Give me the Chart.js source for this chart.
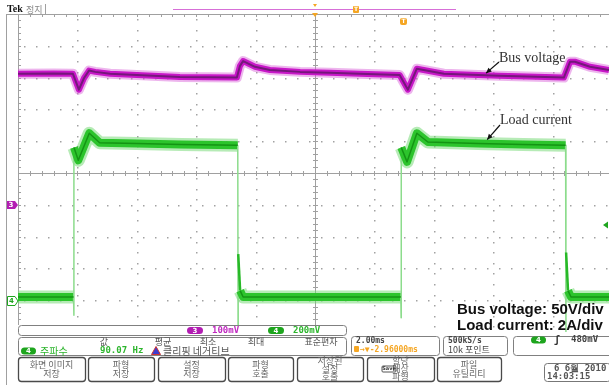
<!DOCTYPE html>
<html>
<head>
<meta charset="utf-8">
<script src="https://cdn.jsdelivr.net/npm/chart.js@4.4.0/dist/chart.umd.min.js"></script>
<style>
  html, body { margin: 0; padding: 0; background: #fff; }
  #scope { display: block; }
</style>
</head>
<body>
<canvas id="scope" width="609" height="385"></canvas>
<script>
// horizontal divisions (2 ms/div), screen is cut just before 20 ms
const timeDivs = [0, 2, 4, 6, 8, 10, 12, 14, 16, 18];
// vertical divisions on the CH4 scale (2 A/div)
const ampDivs = [-2, 0, 2, 4, 6, 8, 10, 12, 14, 16, 18];

// CH3 bus voltage, 50 V/div (time in ms)
const busTime  = [0, 1.2, 1.85, 2.05, 2.22, 2.39, 2.6, 3.1, 4.0, 5.45, 7.37, 7.47, 7.58, 7.98, 8.48, 9.5, 10.5, 11.5, 12.85, 13.13, 13.43, 14.34, 16.2, 18.38, 18.59, 18.75, 19.26, 19.9];
const busVolts = [206, 206.5, 206, 181, 199, 211, 209, 206, 204, 201, 200, 218, 226, 217, 212, 209, 207.5, 206, 204, 181, 214, 206, 203, 200, 225, 225, 217, 212];

// CH4 load current, 2 A/div
const loadTime = [0, 1.87, 1.88, 1.885, 2.03, 2.4, 2.75, 4.0, 5.5, 7.4, 7.41, 7.415, 7.48, 7.58, 12.89, 12.9, 12.905, 13.1, 13.43, 13.8, 15.5, 17.0, 18.44, 18.45, 18.455, 18.52, 18.62, 19.9];
const loadAmps = [0.2, 0.2, -0.95, 9.6, 8.8, 10.5, 9.9, 9.85, 9.8, 9.75, -1.55, 2.9, 0.6, 0.2, 0.2, -1.1, 9.6, 8.7, 10.5, 9.95, 9.85, 9.8, 9.75, -2, 3.0, 0.6, 0.2, 0.2];

const busPts = busTime.map((t, i) => ({ x: t, y: busVolts[i] }));
const loadPts = loadTime.map((t, i) => ({ x: t, y: loadAmps[i] }));

// near-vertical pieces of the current trace are drawn thin
const isEdge = c => Math.abs(c.p1.x - c.p0.x) < 2.5;
const isKick = c => Math.min(c.p0.parsed.y, c.p1.parsed.y) >= 0.5 && Math.max(c.p0.parsed.y, c.p1.parsed.y) <= 4;

function trace(data, axis, color, width, order, edgeStyle) {
  return {
    data, yAxisID: axis, borderColor: color, borderWidth: width, order,
    pointRadius: 0, tension: 0, fill: false, borderJoinStyle: 'round',
    segment: edgeStyle ? {
      borderColor: c => isEdge(c) ? edgeStyle(c).color : undefined,
      borderWidth: c => isEdge(c) ? edgeStyle(c).width : undefined
    } : undefined
  };
}
const hide = () => ({ color: 'rgba(0,0,0,0)', width: 0 });
const edgeLine = c => isKick(c) ? { color: '#27b927', width: 2.5 } : { color: '#8cdc8c', width: 1.5 };

function rbox(ctx, x, y, w, h, r, stroke, fill) {
  ctx.beginPath();
  ctx.roundRect(x, y, w, h, r);
  if (fill) { ctx.fillStyle = fill; ctx.fill(); }
  if (stroke) { ctx.strokeStyle = stroke; ctx.stroke(); }
}
function text(ctx, s, x, y, font, color, align) {
  ctx.font = font;
  ctx.fillStyle = color;
  ctx.textAlign = align || 'left';
  ctx.textBaseline = 'middle';
  ctx.fillText(s, x, y);
}
function pill(ctx, x, y, w, h, color, label) {
  rbox(ctx, x, y, w, h, h / 2, null, color);
  text(ctx, label, x + w / 2, y + h / 2 + 0.5, 'bold 7px "DejaVu Sans"', '#fff', 'center');
}
function arrow(ctx, x0, y0, x1, y1) {
  ctx.beginPath(); ctx.moveTo(x0, y0); ctx.lineTo(x1, y1); ctx.stroke();
  const a = Math.atan2(y1 - y0, x1 - x0);
  ctx.beginPath();
  ctx.moveTo(x1, y1);
  ctx.lineTo(x1 - 6 * Math.cos(a - 0.45), y1 - 6 * Math.sin(a - 0.45));
  ctx.lineTo(x1 - 6 * Math.cos(a + 0.45), y1 - 6 * Math.sin(a + 0.45));
  ctx.closePath(); ctx.fill();
}

const KR = '"Noto Sans CJK KR"';
const MONO = '"DejaVu Sans Mono"';

function drawGraticule(chart) {
  const { ctx, chartArea: a, scales: { x, yA } } = chart;
  const cx = Math.round(x.getPixelForValue(10)) + 0.5;
  const cy = Math.round(yA.getPixelForValue(8)) + 0.5;
  const top = a.top + 0.5, left = a.left + 0.5;
  ctx.save();
  // dotted division lines
  ctx.fillStyle = '#a2a2a2';
  timeDivs.forEach(t => {
    if (t % 10 === 0) return;
    const px = Math.round(x.getPixelForValue(t));
    for (let py = a.top + 5; py < a.bottom; py += 10.6) ctx.fillRect(px, Math.round(py), 1.5, 1.5);
  });
  ampDivs.forEach(v => {
    if (v === 8 || v === 18 || v === -2) return;
    const py = Math.round(yA.getPixelForValue(v));
    for (let px = a.left + 6; px < a.right; px += 11.88) ctx.fillRect(Math.round(px), py, 1.5, 1.5);
  });
  ctx.strokeStyle = '#a0a0a0';
  ctx.lineWidth = 1;
  ctx.beginPath();
  ctx.moveTo(6, top); ctx.lineTo(a.right, top);
  ctx.moveTo(6.5, a.top); ctx.lineTo(6.5, 385);
  ctx.moveTo(left, a.top); ctx.lineTo(left, a.bottom);
  ctx.moveTo(a.left, cy); ctx.lineTo(a.right, cy);
  ctx.moveTo(cx, a.top); ctx.lineTo(cx, a.bottom);
  for (let i = 0; i <= 50; i++) {
    const px = Math.round(x.getPixelForValue(i * 0.4)) + 0.5;
    if (px > a.right) break;
    ctx.moveTo(px, cy - 2.5); ctx.lineTo(px, cy + 2.5);
    ctx.moveTo(px, a.top); ctx.lineTo(px, a.top + 3);
  }
  for (let i = 0; i <= 50; i++) {
    const py = Math.round(yA.getPixelForValue(-2 + i * 0.4)) + 0.5;
    ctx.moveTo(cx - 2.5, py); ctx.lineTo(cx + 2.5, py);
    ctx.moveTo(a.left, py); ctx.lineTo(a.left + 3, py);
  }
  ctx.stroke();
  // separator next to the header
  ctx.beginPath(); ctx.moveTo(45.5, 4); ctx.lineTo(45.5, 14); ctx.stroke();
  ctx.restore();
}

function drawMarkers(chart) {
  const { ctx, scales: { x, yA, yV } } = chart;
  ctx.save();
  text(ctx, 'Tek', 7, 9.5, 'bold 10px "Liberation Serif"', '#111');
  text(ctx, '정지', 26, 9.5, '9px ' + KR, '#888');
  // record bar + trigger position markers
  ctx.fillStyle = '#d76fd7';
  ctx.fillRect(173, 9, 283, 1);
  const tx = Math.round(x.getPixelForValue(10));
  ctx.fillStyle = '#f5a623';
  ctx.beginPath(); ctx.moveTo(tx - 3, 13); ctx.lineTo(tx + 3, 13); ctx.lineTo(tx, 17); ctx.fill();
  ctx.beginPath(); ctx.moveTo(tx - 2, 4); ctx.lineTo(tx + 2, 4); ctx.lineTo(tx, 7); ctx.fill();
  rbox(ctx, 353, 6, 6, 7, 1, null, '#f5a623');
  text(ctx, 'T', 356, 9.8, 'bold 6px "DejaVu Sans"', '#fff', 'center');
  const trig = Math.round(x.getPixelForValue(12.96));
  rbox(ctx, trig - 3, 18, 7, 7, 2, null, '#f5a623');
  text(ctx, 'T', trig + 0.5, 21.8, 'bold 6px "DejaVu Sans"', '#fff', 'center');
  // channel ground tags
  const g3 = Math.round(yV.getPixelForValue(0));
  ctx.fillStyle = '#b21db2';
  ctx.beginPath(); ctx.moveTo(7, g3 - 4); ctx.lineTo(15, g3 - 4); ctx.lineTo(18, g3); ctx.lineTo(15, g3 + 4); ctx.lineTo(7, g3 + 4); ctx.fill();
  text(ctx, '3', 11, g3 + 0.5, 'bold 7px "DejaVu Sans"', '#fff', 'center');
  const g4 = Math.round(yA.getPixelForValue(0)) + 1;
  ctx.strokeStyle = '#1ea51e'; ctx.fillStyle = '#fff'; ctx.lineWidth = 1;
  ctx.beginPath(); ctx.moveTo(7.5, g4 - 4.5); ctx.lineTo(15, g4 - 4.5); ctx.lineTo(18, g4); ctx.lineTo(15, g4 + 4.5); ctx.lineTo(7.5, g4 + 4.5); ctx.closePath(); ctx.fill(); ctx.stroke();
  text(ctx, '4', 11.5, g4 + 0.5, 'bold 7px "DejaVu Sans"', '#1ea51e', 'center');
  // trigger level
  ctx.fillStyle = '#1ea51e';
  ctx.beginPath(); ctx.moveTo(603, 225); ctx.lineTo(608, 221.5); ctx.lineTo(608, 228.5); ctx.fill();
  ctx.restore();
}

function drawNotes(chart) {
  const { ctx, scales: { x, yA, yV } } = chart;
  ctx.save();
  ctx.strokeStyle = '#111'; ctx.fillStyle = '#111'; ctx.lineWidth = 1.2;
  arrow(ctx, 499, 62, x.getPixelForValue(15.76), yV.getPixelForValue(207));
  arrow(ctx, 500, 125, x.getPixelForValue(15.8), yA.getPixelForValue(10.1));
  text(ctx, 'Bus voltage', 499, 58, '14px "Liberation Serif"', '#333');
  text(ctx, 'Load current', 500, 120, '14px "Liberation Serif"', '#333');
  text(ctx, 'Bus voltage: 50V/div', 457, 310, 'bold 15px "Liberation Sans"', '#111');
  text(ctx, 'Load current: 2A/div', 457, 326, 'bold 15px "Liberation Sans"', '#111');
  ctx.restore();
}

function drawPanel(chart) {
  const ctx = chart.ctx;
  const edge = '#808080';
  ctx.save();
  ctx.fillStyle = '#fff';
  ctx.fillRect(7, 336, 602, 49);
  ctx.fillRect(18, 325, 330, 11);
  ctx.lineWidth = 1;
  // vertical scale readouts
  rbox(ctx, 18.5, 325.5, 328, 10, 3, edge);
  pill(ctx, 187, 327, 16, 7, '#b21db2', '3');
  text(ctx, '100mV', 212, 331, 'bold 9px ' + MONO, '#c02ac0');
  pill(ctx, 268, 327, 16, 7, '#1ea51e', '4');
  text(ctx, '200mV', 293, 331, 'bold 9px ' + MONO, '#2db52d');
  // measurement box
  rbox(ctx, 18.5, 337.5, 328, 18, 3, edge);
  const hdr = '9px ' + KR;
  text(ctx, '값', 104, 341.5, hdr, '#555', 'center');
  text(ctx, '평균', 163, 341.5, hdr, '#555', 'center');
  text(ctx, '최소', 208, 341.5, hdr, '#555', 'center');
  text(ctx, '최대', 256, 341.5, hdr, '#555', 'center');
  text(ctx, '표준편차', 321, 341.5, hdr, '#555', 'center');
  pill(ctx, 21, 347.5, 15, 7, '#1ea51e', '4');
  text(ctx, '주파수', 40, 351, '10px ' + KR, '#2db52d');
  text(ctx, '90.07 Hz', 100, 351, 'bold 9px ' + MONO, '#2db52d');
  ctx.fillStyle = '#3b3bd0'; ctx.strokeStyle = '#c33';
  ctx.beginPath(); ctx.moveTo(156, 346.5); ctx.lineTo(160.5, 354.5); ctx.lineTo(151.5, 354.5); ctx.closePath(); ctx.fill(); ctx.stroke();
  text(ctx, '클리핑 네거티브', 163, 351, '10px ' + KR, '#555');
  // timebase
  rbox(ctx, 351.5, 336.5, 88, 19, 3, edge);
  text(ctx, '2.00ms', 356, 341, 'bold 8px ' + MONO, '#444');
  rbox(ctx, 354, 346, 5, 6, 1, null, '#f5a623');
  text(ctx, '→▼-2.96000ms', 360, 349.5, 'bold 8px ' + MONO, '#f5a623');
  // acquisition
  rbox(ctx, 443.5, 336.5, 64, 19, 3, edge);
  text(ctx, '500kS/s', 448, 341, 'bold 8px ' + MONO, '#444');
  text(ctx, '10k 포인트', 448, 349.5, '9px ' + KR, '#444');
  // trigger
  rbox(ctx, 513.5, 336.5, 100, 19, 3, edge);
  pill(ctx, 531, 336.5, 15, 7, '#1ea51e', '4');
  text(ctx, 'ʃ', 557, 340, 'bold 10px ' + MONO, '#333', 'center');
  text(ctx, '480mV', 571, 340, 'bold 9px ' + MONO, '#444');
  // soft keys
  const keys = [
    [18, 85, ['화면 이미지', '저장']],
    [88, 154, ['파형', '저장']],
    [158, 225, ['설정', '저장']],
    [228, 293, ['파형', '호출']],
    [297, 363, ['저장된', '설정', '호출']],
    [367, 434, ['할당', '대상', '파형']],
    [437, 501, ['파일', '유틸리티']]
  ];
  ctx.lineWidth = 1.3;
  keys.forEach(([x0, x1, lines]) => {
    rbox(ctx, x0 + 0.5, 357.5, x1 - x0, 24, 3, '#4a4a4a');
    const cx = (x0 + x1) / 2;
    const step = lines.length === 3 ? 8 : 9;
    const y0 = lines.length === 3 ? 361 : 365;
    lines.forEach((s, i) => text(ctx, s, cx, y0 + i * step, '9px ' + KR, '#666', 'center'));
  });
  ctx.lineWidth = 1;
  rbox(ctx, 382, 366, 14, 6, 1, '#555');
  text(ctx, 'Save', 389, 369.2, 'bold 5px "DejaVu Sans"', '#333', 'center');
  // date
  rbox(ctx, 544.5, 363.5, 66, 18, 3, '#777');
  text(ctx, '6 6월 2010', 554, 368.5, 'bold 9px ' + MONO, '#555');
  text(ctx, '14:03:15', 547, 377, 'bold 9px ' + MONO, '#555');
  ctx.restore();
}

const scopeDecor = {
  id: 'scopeDecor',
  beforeDatasetsDraw(chart) { drawGraticule(chart); },
  afterDatasetsDraw(chart) { drawMarkers(chart); drawNotes(chart); drawPanel(chart); }
};

new Chart(document.getElementById('scope'), {
  type: 'line',
  data: {
    datasets: [
      trace(busPts, 'yV', '#74177a', 2, 1),
      trace(busPts, 'yV', '#c817c8', 6, 2),
      trace(busPts, 'yV', 'rgba(214, 90, 214, 0.45)', 10, 3),
      trace(loadPts, 'yA', '#149414', 1.5, 1, hide),
      trace(loadPts, 'yA', '#2cc42c', 8, 2, edgeLine),
      trace(loadPts, 'yA', 'rgba(110, 215, 110, 0.5)', 13, 3, hide)
    ]
  },
  options: {
    responsive: false,
    animation: false,
    events: [],
    layout: { padding: { left: 18, top: 14, right: 0, bottom: 53 } },
    plugins: { legend: { display: false }, tooltip: { enabled: false } },
    scales: {
      x: {
        type: 'linear', min: 0, max: 19.9,
        afterBuildTicks: s => { s.ticks = timeDivs.map(v => ({ value: v })); },
        ticks: { display: false },
        grid: { display: false, drawTicks: false },
        border: { display: false }
      },
      yA: {
        position: 'left', min: -2, max: 18,
        ticks: { display: false, stepSize: 2 },
        grid: { display: false, drawTicks: false },
        border: { display: false }
      },
      yV: { display: false, min: -200, max: 300 }
    }
  },
  plugins: [scopeDecor]
});
</script>
</body>
</html>
